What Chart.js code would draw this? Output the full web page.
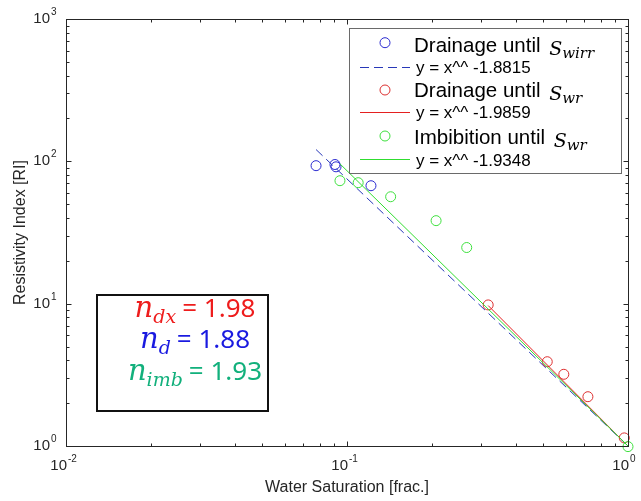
<!DOCTYPE html>
<html><head><meta charset="utf-8">
<script src="https://cdn.jsdelivr.net/npm/chart.js@4/dist/chart.umd.min.js"></script>
<style>html,body{margin:0;padding:0;background:#fff}#wrap{width:641px;height:501px;position:relative}</style>
</head><body><div id="wrap"><canvas id="c" width="641" height="501"></canvas></div>
<script>
// ---- data ----
const drainIrrX = [0.0776, 0.0906, 0.0914, 0.1217];
const drainIrrY = [93.2, 95.0, 91.5, 67.4];
const drainWrX = [0.318, 0.516, 0.591, 0.720, 0.970];
const drainWrY = [9.8, 3.91, 3.19, 2.22, 1.14];
const imbX = [0.0944, 0.1096, 0.143, 0.2075, 0.2667, 1.0];
const imbY = [73.1, 70.8, 56.4, 38.3, 24.8, 0.99];
const fitIrrX = [0.0776, 1.0];
const fitIrrY = [121, 1.0];
const fitWrX = [0.318, 1.0];
const fitWrY = [9.7, 1.0];
const fitImbX = [0.0944, 1.0];
const fitImbY = [96, 1.0];
const xTickValues = [0.01, 0.1, 1];
const xTickExponents = ['-2', '-1', '0'];
const yTickValues = [1, 10, 100, 1000];
const yTickExponents = ['0', '1', '2', '3'];
const seriesNames = ['Drainage until', 'Drainage until', 'Imbibition until'];
const seriesSubs = ['wirr', 'wr', 'wr'];
const fitExponents = ['-1.8815', '-1.9859', '-1.9348'];
const noteSubs = ['dx', 'd', 'imb'];
const noteValues = ['1.98', '1.88', '1.93'];
const xTitle = 'Water Saturation [frac.]';
const yTitle = 'Resistivity Index [RI]';

const BLUE = '#2a2ad0', RED = '#dd3030', GREEN = '#3ee03e';
const BLUE_L = '#2838b8', RED_L = '#e42020', GREEN_L = '#30dd30';
const NOTE_COLORS = ['#ee1c1c', '#1a1ae0', '#12b07c'];

const pts = (xs, ys) => xs.map((x, i) => ({x, y: ys[i]}));
const mk = (data, color, order) => ({type: 'scatter', data, showLine: false, pointStyle: 'circle', pointRadius: 5,
  pointBorderWidth: 1, borderColor: color, pointBorderColor: color, backgroundColor: 'rgba(0,0,0,0)',
  pointBackgroundColor: 'rgba(0,0,0,0)', order, clip: false});
const ln = (data, color, dash, order) => ({type: 'line', data, borderColor: color, borderWidth: 1, borderDash: dash,
  pointRadius: 0, fill: false, tension: 0, order, clip: false});

const overlay = {
  id: 'overlay',
  afterDatasetsDraw(chart) {
    const ctx = chart.ctx, ca = chart.chartArea, xs = chart.scales.x, ys = chart.scales.y;
    ctx.save();
    const L = Math.round(ca.left) + 0.5, R = Math.round(ca.right) + 0.5, T = Math.round(ca.top) + 0.5, B = Math.round(ca.bottom) + 0.5;
    ctx.strokeStyle = '#262626'; ctx.lineWidth = 1;
    ctx.strokeRect(L, T, R - L, B - T);
    // ticks (inside, all four sides)
    ctx.beginPath();
    for (let d = -2; d < 0; d++) for (let m = 1; m <= 9; m++) {
      const v = m * Math.pow(10, d); const px = Math.round(xs.getPixelForValue(v)) + 0.5;
      const len = m === 1 ? 5 : 3;
      ctx.moveTo(px, B); ctx.lineTo(px, B - len);
      ctx.moveTo(px, T); ctx.lineTo(px, T + len);
    }
    for (let d = 0; d < 3; d++) for (let m = 1; m <= 9; m++) {
      const v = m * Math.pow(10, d); const py = Math.round(ys.getPixelForValue(v)) + 0.5;
      const len = m === 1 ? 5 : 3;
      ctx.moveTo(L, py); ctx.lineTo(L + len, py);
      ctx.moveTo(R, py); ctx.lineTo(R - len, py);
    }
    ctx.stroke();
    // tick labels
    ctx.fillStyle = '#262626'; ctx.textBaseline = 'alphabetic';
    xTickValues.forEach((v, i) => {
      const px = xs.getPixelForValue(v);
      ctx.font = '15px "Liberation Sans", Arial, sans-serif'; ctx.textAlign = 'right';
      ctx.fillText('10', px + 1, 470);
      ctx.font = '10px "Liberation Sans", Arial, sans-serif'; ctx.textAlign = 'left';
      ctx.fillText(xTickExponents[i], px + 2, 462);
    });
    yTickValues.forEach((v, i) => {
      const py = ys.getPixelForValue(v);
      ctx.font = '15px "Liberation Sans", Arial, sans-serif'; ctx.textAlign = 'right';
      ctx.fillText('10', ca.left - 16, py + 4);
      ctx.font = '10px "Liberation Sans", Arial, sans-serif'; ctx.textAlign = 'left';
      ctx.fillText(yTickExponents[i], ca.left - 15, py - 4);
    });
    // axis titles
    ctx.font = '16px "Liberation Sans", Arial, sans-serif'; ctx.textAlign = 'center'; ctx.textBaseline = 'middle';
    ctx.fillText(xTitle, (ca.left + ca.right) / 2, 488);
    ctx.save(); ctx.translate(21, (ca.top + ca.bottom) / 2); ctx.rotate(-Math.PI / 2);
    ctx.fillText(yTitle, 0, 0); ctx.restore();
    // legend
    ctx.fillStyle = '#fff'; ctx.fillRect(349, 28, 272, 145);
    ctx.strokeStyle = '#6a6a6a'; ctx.lineWidth = 1; ctx.strokeRect(349.5, 28.5, 272, 145);
    const mColors = [BLUE, RED, GREEN], lColors = [BLUE_L, RED_L, GREEN_L];
    const mY = [42.7, 90, 136], tY = [51.7, 97.3, 144], lY = [67, 111.7, 159.3], fY = [72.7, 118.3, 166];
    ctx.textBaseline = 'alphabetic'; ctx.textAlign = 'left';
    for (let i = 0; i < 3; i++) {
      ctx.strokeStyle = mColors[i]; ctx.lineWidth = 1;
      ctx.beginPath(); ctx.arc(385, mY[i], 5, 0, Math.PI * 2); ctx.stroke();
      ctx.fillStyle = '#000';
      ctx.font = '20.5px "Liberation Sans", Arial, sans-serif';
      const s = seriesNames[i] + ' ';
      ctx.fillText(s, 414, tY[i]);
      let x = 414 + ctx.measureText(s).width + 3;
      ctx.font = 'italic 19px "DejaVu Serif", serif';
      ctx.fillText('S', x, tY[i] + 3);
      x += ctx.measureText('S').width;
      ctx.font = 'italic 15px "DejaVu Serif", serif';
      ctx.fillText(seriesSubs[i], x, tY[i] + 6);
      // fit line sample
      ctx.strokeStyle = lColors[i]; ctx.setLineDash(i === 0 ? [9, 5] : []);
      ctx.beginPath(); ctx.moveTo(360, Math.round(lY[i]) + 0.5); ctx.lineTo(410, Math.round(lY[i]) + 0.5); ctx.stroke();
      ctx.setLineDash([]);
      ctx.fillStyle = '#000';
      ctx.font = '17px "Liberation Sans", Arial, sans-serif';
      ctx.fillText('y = x^^ ' + fitExponents[i], 416, fY[i]);
    }
    // annotation box
    ctx.strokeStyle = '#111'; ctx.lineWidth = 2; ctx.strokeRect(97, 295, 171, 116);
    const nY = [316.7, 348.3, 380];
    for (let i = 0; i < 3; i++) {
      ctx.fillStyle = NOTE_COLORS[i];
      const fN = 'italic 29px "DejaVu Serif", serif', fS = 'italic 19px "DejaVu Serif", serif', fV = '26px "Noto Sans", sans-serif';
      ctx.font = fN; const wN = ctx.measureText('n').width;
      ctx.font = fS; const wS = ctx.measureText(noteSubs[i]).width;
      ctx.font = fV; const vs = '= ' + noteValues[i]; const wV = ctx.measureText(vs).width;
      const total = wN + wS + 6 + wV;
      let x = 195 - total / 2;
      ctx.font = fN; ctx.fillText('n', x, nY[i]); x += wN;
      ctx.font = fS; ctx.fillText(noteSubs[i], x, nY[i] + 6); x += wS + 6;
      ctx.font = fV; ctx.fillText(vs, x, nY[i]);
    }
    ctx.restore();
  }
};

new Chart(document.getElementById('c'), {
  type: 'scatter',
  data: {datasets: [
    mk(pts(drainIrrX, drainIrrY), BLUE, 6),
    ln(pts(fitIrrX, fitIrrY), BLUE_L, [9, 5], 5),
    mk(pts(drainWrX, drainWrY), RED, 4),
    ln(pts(fitWrX, fitWrY), RED_L, [], 3),
    mk(pts(imbX, imbY), GREEN, 2),
    ln(pts(fitImbX, fitImbY), GREEN_L, [], 1)
  ]},
  options: {
    responsive: false, animation: false, devicePixelRatio: 1,
    layout: {padding: {left: 66, top: 19, right: 13, bottom: 55}},
    scales: {
      x: {type: 'logarithmic', min: 0.01, max: 1, display: false},
      y: {type: 'logarithmic', min: 1, max: 1000, display: false}
    },
    plugins: {legend: {display: false}, tooltip: {enabled: false}}
  },
  plugins: [overlay]
});
</script></body></html>
